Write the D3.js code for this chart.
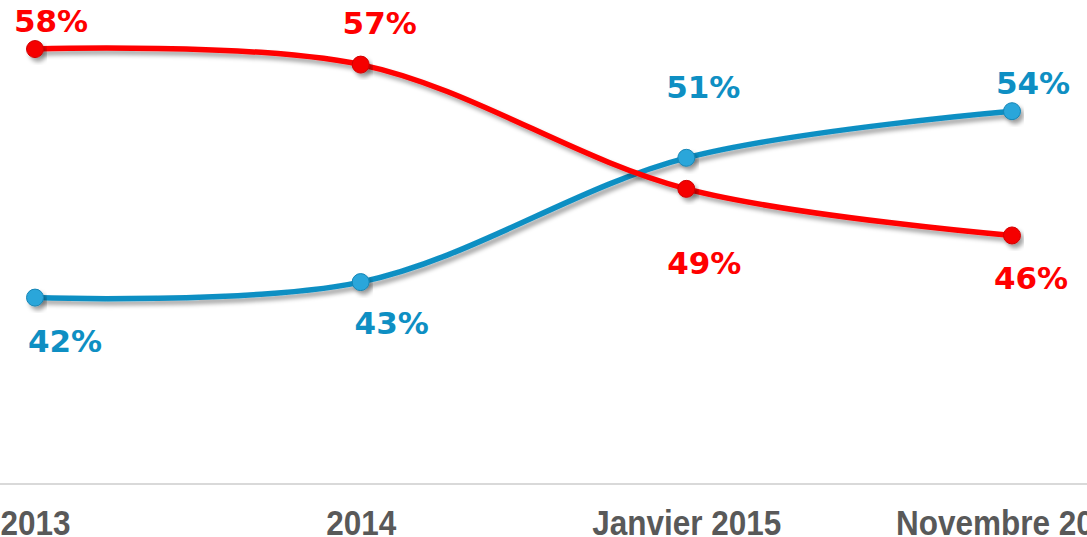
<!DOCTYPE html>
<html>
<head>
<meta charset="utf-8">
<script src="https://cdn.jsdelivr.net/npm/d3@7"></script>
<style>
  html, body { margin: 0; padding: 0; background: #ffffff; }
  svg { display: block; }
</style>
</head>
<body>
<svg id="chart" width="1087" height="537"></svg>
<script>
// ---- data ----
const categories = ["2013", "2014", "Janvier 2015", "Novembre 2015"];
const redValues  = [58, 57, 49, 46];
const blueValues = [42, 43, 51, 54];
const redLabels  = ["58%", "57%", "49%", "46%"];
const blueLabels = ["42%", "43%", "51%", "54%"];

// ---- layout / style (not data) ----
const W = 1087, H = 537;
const redColor = "#ff0000", blueColor = "#0e8fc3", bluePoint = "#2ba6da";
// label offsets relative to point (dx, dy to baseline)
const redLabelOff  = [[16, -17], [19, -31], [18, 85], [19, 54]];
const blueLabelOff = [[30, 54], [31, 52], [17, -60], [21, -17]];

const svg = d3.select("#chart");

const defs = svg.append("defs");
const f = defs.append("filter").attr("id", "shadow")
  .attr("x", "-20%").attr("y", "-20%").attr("width", "140%").attr("height", "160%");
f.append("feDropShadow").attr("dx", 3).attr("dy", 4).attr("stdDeviation", 2.2)
  .attr("flood-color", "#000").attr("flood-opacity", 0.35);

const x = d3.scalePoint().domain(categories).range([35, 1012]);
const y = d3.scaleLinear().domain([30, 60]).range([484, 18]);

// baseline axis
const xAxis = d3.axisBottom(x).tickSize(0).tickPadding(0);
const gx = svg.append("g").attr("transform", "translate(0,484)").call(xAxis);
gx.select(".domain").remove();
svg.append("line").attr("x1", 0).attr("x2", W).attr("y1", 484).attr("y2", 484)
  .attr("stroke", "#d9d9d9").attr("stroke-width", 2);
gx.selectAll("text")
  .attr("fill", "#595959")
  .attr("y", 51)
  .attr("dy", 0)
  .attr("transform", "scale(0.9,1)")
  .style("font-family", "'Liberation Sans', Arial, sans-serif")
  .style("font-weight", "bold")
  .style("font-size", "35px");

const line = d3.line()
  .x((d, i) => x(categories[i]))
  .y(d => y(d))
  .curve(d3.curveCatmullRom.alpha(0.5));

function drawSeries(vals, labels, offs, lineColor, ptFill, ptStroke) {
  const g = svg.append("g");
  g.append("path").datum(vals)
    .attr("d", line)
    .attr("fill", "none")
    .attr("stroke", lineColor)
    .attr("stroke-width", 5.5)
    .attr("stroke-linecap", "round")
    .attr("filter", "url(#shadow)");
  g.selectAll("circle").data(vals).join("circle")
    .attr("cx", (d, i) => x(categories[i]))
    .attr("cy", d => y(d))
    .attr("r", 8.5)
    .attr("fill", ptFill)
    .attr("stroke", ptStroke)
    .attr("stroke-width", 1)
    .attr("filter", "url(#shadow)");
  g.selectAll("text").data(vals).join("text")
    .attr("x", (d, i) => x(categories[i]) + offs[i][0])
    .attr("y", (d, i) => y(d) + offs[i][1])
    .attr("text-anchor", "middle")
    .attr("fill", lineColor)
    .style("font-family", "'DejaVu Sans', Verdana, sans-serif")
    .style("font-weight", "bold")
    .style("font-size", "31px")
    .text((d, i) => labels[i]);
}

drawSeries(blueValues, blueLabels, blueLabelOff, blueColor, bluePoint, "#1685b5");
drawSeries(redValues, redLabels, redLabelOff, redColor, "#f50000", "#d00000");
</script>
</body>
</html>
